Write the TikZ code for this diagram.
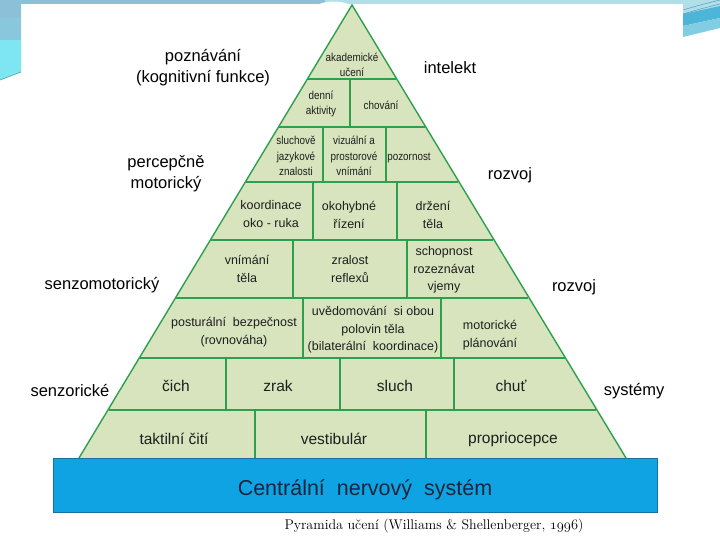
\documentclass[tikz,border=0pt]{standalone}
\usepackage{fontspec}
\setmainfont{Liberation Sans}
\newfontfamily\narrowfont[FakeStretch=0.86]{Liberation Sans}
\newfontfamily\capfont{Latin Modern Roman}
\usetikzlibrary{calc}
\definecolor{pyrfill}{HTML}{D8E4BE}
\definecolor{pyrline}{HTML}{2DA04E}
\definecolor{cnsfill}{HTML}{0FA3E3}
\definecolor{cnsline}{HTML}{1C6FA2}
\definecolor{cnstext}{HTML}{15263D}
\definecolor{steel}{HTML}{8CBFD8}
\definecolor{lcyan}{HTML}{AFDFE8}
\definecolor{cyanb}{HTML}{7EE6F2}
\definecolor{midblue}{HTML}{4DB6D8}
\definecolor{softblue}{HTML}{80CDE4}
\definecolor{txt}{HTML}{1E1E1E}
\begin{document}
\begin{tikzpicture}[x=1pt,y=-1pt,
  edgeline/.style={draw=pyrline,line width=1.4pt,line join=miter},
  hline/.style={draw=pyrline,line width=2.6pt},
  vline/.style={draw=pyrline,line width=2pt},
  cellS/.style={text=txt,align=center,inner sep=0pt,font=\narrowfont\fontsize{11.5}{15.5}\selectfont},
  cellM/.style={text=txt,align=center,inner sep=0pt,font=\fontsize{12.5}{17.6}\selectfont},
  cellL/.style={text=txt,align=center,inner sep=0pt,font=\fontsize{15.5}{18}\selectfont},
  side/.style={text=black,align=center,inner sep=0pt,font=\fontsize{16.5}{21}\selectfont},
  cnsbox/.style={fill=cnsfill,draw=cnsline,line width=1pt},
]
\useasboundingbox (0,0) rectangle (720,540);
\fill[white] (0,0) rectangle (720,540);
% slide decoration
\fill[cyanb] (0,0) -- (21,0) -- (21,72) -- (0,80) -- cycle;
\fill[steel!80!cyanb] (0,0) rectangle (21,40);
\fill[steel] (0,0) rectangle (21,18);
\draw[teal!70,line width=0.6pt] (0,80) -- (21,72);
\fill[steel] (0,0) rectangle (325,4.5);
\fill[lcyan] (325,0) rectangle (720,4.5);
\fill[white] (318,4.5) .. controls (326,1) and (338,0) .. (350,4.5) -- cycle;
\fill[lcyan] (683,0) rectangle (720,14);
\fill[midblue] (683,14) -- (720,6) -- (720,18) -- (683,26) -- cycle;
\fill[softblue] (683,26) -- (720,18) -- (720,28) -- (683,37) -- cycle;
\draw[cnsline!70,line width=0.5pt] (683,10) .. controls (700,5) .. (720,0);
\draw[cnsline!70,line width=0.5pt] (683,14) .. controls (700,9) .. (720,4);
% pyramid
\coordinate (A) at (352,5);
\coordinate (BL) at (79,458);
\coordinate (BR) at (626,458);
\fill[pyrfill] (A) -- (BL) -- (BR) -- cycle;
\foreach \t/\n in {0.1634/1,0.2693/2,0.3907/3,0.5188/4,0.6468/5,0.7792/6,0.8940/7}{
  \coordinate (L\n) at ($(A)!\t!(BL)$);
  \coordinate (R\n) at ($(A)!\t!(BR)$);
  \draw[hline] ($(L\n)+(1,0)$) -- ($(R\n)+(-1,0)$);
}
\foreach \x/\ya/\yb in {350/79/127, 323/127/182, 386/127/182, 313/182/240, 397/182/240,
  293/240/298, 407/240/298, 303/298/358, 441/298/358, 226/358/410, 340/358/410, 454/358/410,
  255/410/458, 426/410/458}{
  \draw[vline] (\x,\ya) -- (\x,\yb);
}
\draw[edgeline] (BL) -- (A) -- (BR);
% cell texts
\node[cellS] (c1) at (352,65) {akademické\\učení};
\node[cellS] (c21) at (321,104) {denní\\aktivity};
\node[cellS] (c22) at (381,105) {chování};
\node[cellS] (c31) at (296,156) {sluchově\\jazykové\\znalosti};
\node[cellS] (c32) at (354,156) {vizuální a\\prostorové\\vnímání};
\node[cellS] (c33) at (409,158) {pozornost};
\node[cellM] (c41) at (271,214) {koordinace\\oko - ruka};
\node[cellM] (c42) at (349,215) {okohybné\\řízení};
\node[cellM] (c43) at (433,215) {držení\\těla};
\node[cellM] (c51) at (247,269) {vnímání\\těla};
\node[cellM] (c52) at (350,269) {zralost\\reflexů};
\node[cellM] (c53) at (444,270) {schopnost\\rozeznávat\\vjemy};
\node[cellM] (c61) at (234,332) {posturální\ \ bezpečnost\\(rovnováha)};
\node[cellM] (c62) at (373,330) {uvědomování\ \ si obou\\polovin těla\\(bilaterální\ \ koordinace)};
\node[cellM] (c63) at (490,335) {motorické\\plánování};
\node[cellL] (c71) at (176,386) {čich};
\node[cellL] (c72) at (278,386) {zrak};
\node[cellL] (c73) at (395,386) {sluch};
\node[cellL] (c74) at (511,386) {chuť};
\node[cellL] (c81) at (174,439) {taktilní čití};
\node[cellL] (c82) at (334,439) {vestibulár};
\node[cellL] (c83) at (513,439) {propriocepce};
% side labels
\node[side] (s1) at (203,68) {poznávání\\(kognitivní funkce)};
\node[side] (s2) at (450,68) {intelekt};
\node[side] (s3) at (166,174) {percepčně\\motorický};
\node[side] (s4) at (510,175) {rozvoj};
\node[side] (s5) at (102,285) {senzomotorický};
\node[side] (s6) at (574,287) {rozvoj};
\node[side] (s7) at (70,391) {senzorické};
\node[side] (s8) at (634,391) {systémy};
% CNS
\draw[cnsbox] (53,458) rectangle (657,512);
\node[text=cnstext,inner sep=0pt,font=\fontsize{21.5}{24}\selectfont] (cns) at (365,490) {Centrální\ \ nervový\ \ systém};
% caption
\node[inner sep=0pt,font=\capfont\fontsize{14}{16}\selectfont] (cap) at (434,526) {Pyramida učení (Williams \& Shellenberger, {\usefont{OML}{cmm}{m}{it}1996})};
\end{tikzpicture}
\end{document}
